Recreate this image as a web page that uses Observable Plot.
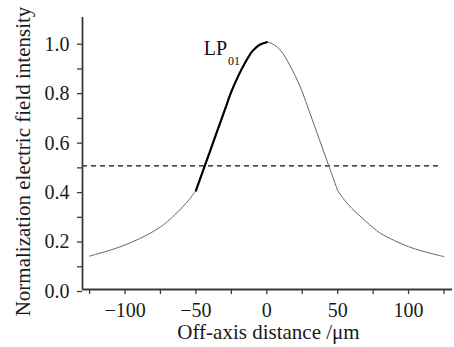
<!DOCTYPE html>
<html><head><meta charset="utf-8">
<script src="https://cdn.jsdelivr.net/npm/d3@7"></script>
<script src="https://cdn.jsdelivr.net/npm/@observablehq/plot@0.6"></script>
<style>
body{margin:0;background:#fff}
svg, svg text, svg g{font-family:"Liberation Serif","Times New Roman",serif !important;}
</style>
</head><body><div id="chart"></div>
<script>
// Left cladding tail
const leftTailX = [-125, -120, -110, -100, -90, -80, -75, -70, -60, -55, -50];
const leftTailY = [0.135, 0.143, 0.160, 0.180, 0.205, 0.235, 0.253, 0.275, 0.330, 0.362, 0.400];
// Core region
const coreX = [-50, -45, -40, -35, -30, -25, -20, -15, -10, -5, 0, 5, 10, 15, 20, 25, 30, 35, 40, 45, 50];
const coreY = [0.40, 0.48, 0.56, 0.64, 0.72, 0.80, 0.865, 0.92, 0.965, 0.99, 1.0, 0.99, 0.965, 0.92, 0.865, 0.80, 0.72, 0.64, 0.56, 0.48, 0.40];
// Right cladding tail
const rightTailX = [50, 55, 60, 70, 75, 80, 90, 100, 110, 120, 125];
const rightTailY = [0.400, 0.360, 0.328, 0.275, 0.250, 0.228, 0.198, 0.173, 0.155, 0.140, 0.133];
// Half-maximum reference
const halfLevel = [0.5];
const halfExtent = [-130, 121.5];
// Ticks
const xTicks = [-125, -100, -75, -50, -25, 0, 25, 50, 75, 100, 125];
const xLabeled = [-100, -50, 0, 50, 100];
const yTicks = [0, 0.1, 0.2, 0.3, 0.4, 0.5, 0.6, 0.7, 0.8, 0.9, 1.0];
const yLabeled = ["0.0", "0.2", "0.4", "0.6", "0.8", "1.0"];
const xTitle = "Off-axis distance /\u03bcm";
const yTitle = "Normalization electric field intensity";
const modeName = "LP";
const modeSub = "01";
const modeLabelPos = [-28, 0.947];

const leftTail = leftTailX.map((x, i) => ({x, y: leftTailY[i], seg: "L"}));
const core = coreX.map((x, i) => ({x, y: coreY[i], seg: "C"}));
const rightTail = rightTailX.map((x, i) => ({x, y: rightTailY[i], seg: "R"}));
const all = [...leftTail, ...core, ...rightTail];
const thick = core.filter(d => d.x <= 0);

const fmtX = d => d < 0 ? "\u2212" + Math.abs(d) : String(d);
const axisColor = "#3a3a3a";
const serif = "Liberation Serif";

const plot = Plot.plot({
  width: 454,
  height: 347,
  marginLeft: 82,
  marginRight: 2,
  marginTop: 17,
  marginBottom: 58,
  style: {fontFamily: serif, background: "#fff"},
  x: {domain: [-130, 131]},
  y: {domain: [0, 1.1]},
  marks: [
    Plot.ruleY(halfLevel, {x1: halfExtent[0], x2: halfExtent[1], stroke: "#111", strokeWidth: 1.3, strokeDasharray: "5,4"}),
    Plot.line(all, {x: "x", y: "y", z: "seg", stroke: "#666", strokeWidth: 1, curve: "catmull-rom"}),
    Plot.line(thick, {x: "x", y: "y", stroke: "#000", strokeWidth: 2.2, curve: "catmull-rom"}),
    Plot.axisX({ticks: xTicks, tickFormat: d => xLabeled.includes(d) ? fmtX(d) : "", tickSize: 5, tickPadding: 8, fontSize: 20, fontFamily: serif, stroke: axisColor, strokeWidth: 1.3, fill: "#1a1a1a", label: null}),
    Plot.axisY({ticks: yTicks, tickFormat: d => yLabeled.includes(d.toFixed(1)) ? d.toFixed(1) : "", tickSize: 5, tickPadding: 8, fontSize: 20, fontFamily: serif, stroke: axisColor, strokeWidth: 1.3, fill: "#1a1a1a", dy: 2, label: null}),
    Plot.ruleX([-130], {stroke: axisColor, strokeWidth: 1.8}),
    Plot.ruleY([0], {stroke: axisColor, strokeWidth: 1.8}),
    Plot.text([modeName], {x: modeLabelPos[0], y: modeLabelPos[1], text: d => d, textAnchor: "end", lineAnchor: "bottom", fontSize: 20, fontFamily: serif, fill: "#111"}),
    Plot.text([modeSub], {x: modeLabelPos[0], y: modeLabelPos[1], text: d => d, textAnchor: "start", lineAnchor: "bottom", fontSize: 12, fontFamily: serif, dx: 1, dy: 10, fill: "#111"}),
    Plot.text([xTitle], {frameAnchor: "bottom", text: d => d, textAnchor: "middle", lineAnchor: "bottom", fontSize: 21, fontFamily: serif, dx: 1, dy: 49, fill: "#1a1a1a"}),
    Plot.text([yTitle], {frameAnchor: "left", text: d => d, textAnchor: "middle", lineAnchor: "bottom", fontSize: 21, fontFamily: serif, rotate: -90, dx: -53, dy: 8, fill: "#1a1a1a"})
  ]
});
d3.select(plot).selectAll("text, g").attr("font-family", serif).style("font-family", serif);
document.getElementById("chart").appendChild(plot);
</script>
</body></html>
